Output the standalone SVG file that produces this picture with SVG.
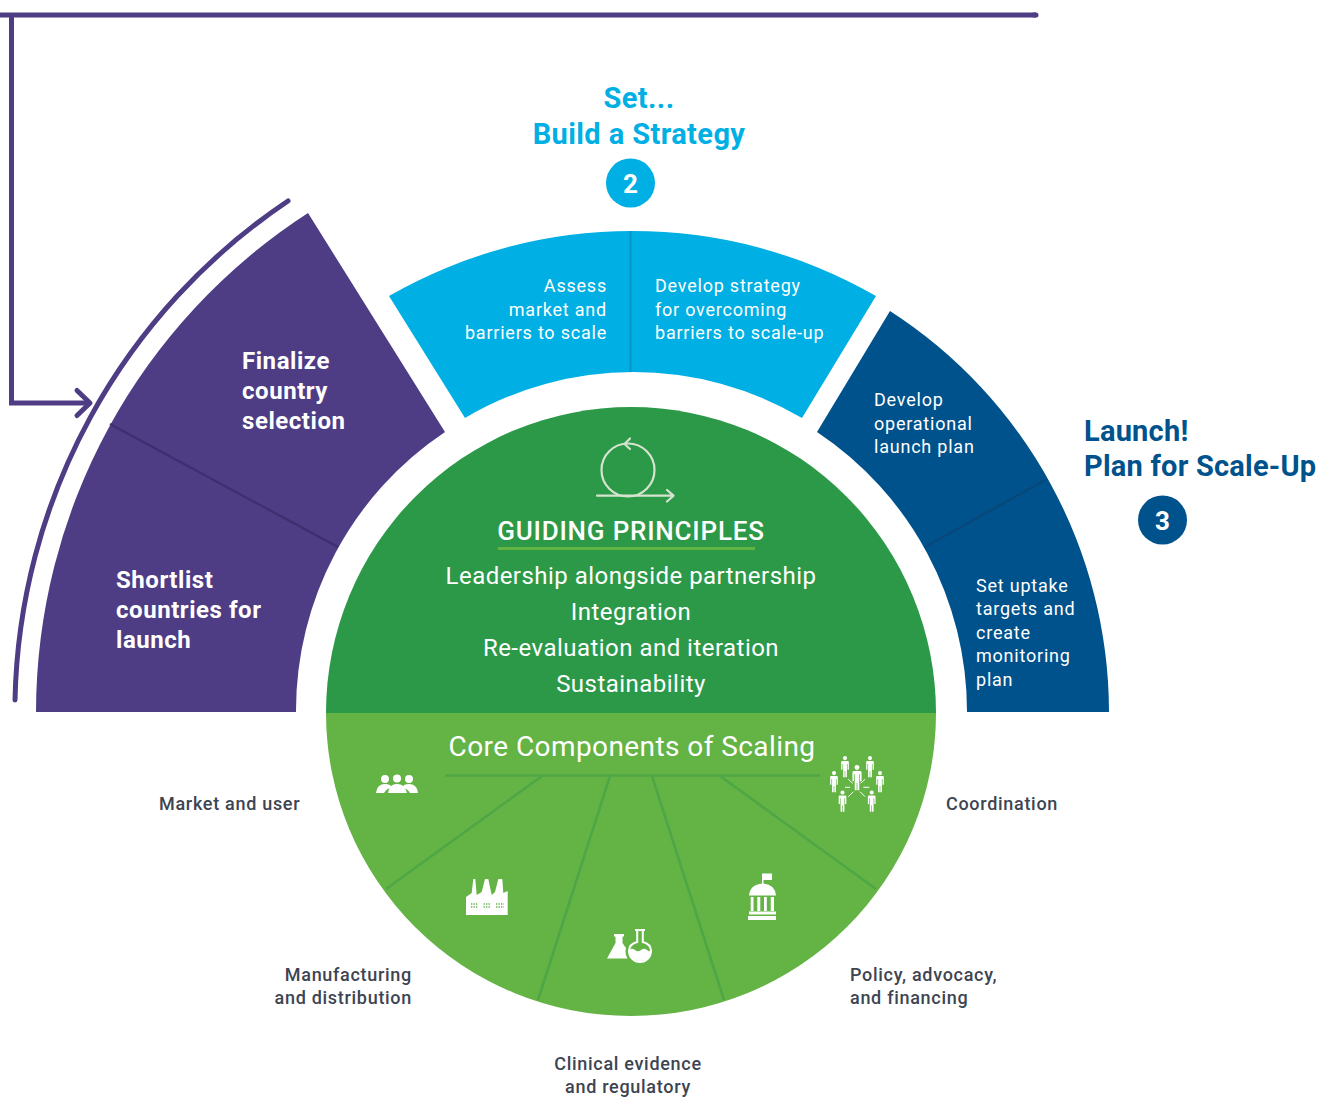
<svg xmlns="http://www.w3.org/2000/svg" width="1321" height="1097" viewBox="0 0 1321 1097">
<style>
text{font-family:Roboto,"Liberation Sans",sans-serif}
.w{fill:#fff;font-size:18px;letter-spacing:.78px}
.wb{fill:#fff;font-size:24px;font-weight:700;letter-spacing:.55px}
.g{fill:#fff;font-size:24px;letter-spacing:.47px;text-anchor:middle}
.k{fill:#3d4452;font-size:18px;font-weight:500;letter-spacing:.7px}
.t1{fill:#00afe3;font-size:29px;font-weight:700;letter-spacing:.4px;text-anchor:middle}
.t2{fill:#00528c;font-size:29px;font-weight:700;letter-spacing:.22px}
.n{fill:#fff;font-size:26px;font-weight:700;text-anchor:middle}
.e{text-anchor:end}.m{text-anchor:middle}
.dl{stroke:#4fa647;stroke-width:2.5;fill:none}
.ic{fill:#fff}
.ln{fill:none;stroke:#4e3d84;stroke-width:5}
.lp{fill:none;stroke:#d5e3cf;stroke-width:2.2;stroke-linecap:round;stroke-linejoin:round}
</style>
<defs>
<g id="person"><circle cx="0" cy="-17" r="3.200"/><path d="M-4.500-12.500H4.500Q6-12.500 6-10.500V1H4V-8H3V13H.5V3H-.5V13H-3V-8H-4V1H-6V-10.500Q-6-12.500-4.500-12.500Z"/></g>
</defs>
<g id="connectors">
<path class="ln" d="M1036 15H0"/>
<path class="ln" stroke-linecap="round" d="M1036 15H1034"/>
<path class="ln" d="M11.500 15V403H88"/>
<path class="ln" stroke-linecap="round" stroke-linejoin="round" d="M77 390.500L90 403L77 415.500"/>
<path class="ln" stroke-linecap="round" d="M288 201A616 616 0 0 0 15 700"/>
</g>
<g id="step1">
<path fill="#4e3d84" d="M36 712A595 595 0 0 1 308 213L445 432A335 335 0 0 0 296 712Z"/>
<path fill="none" stroke="#3c2e6f" stroke-width="2" d="M110 424L338 547"/>
<text class="wb" x="242" y="369">Finalize</text>
<text class="wb" x="242" y="399">country</text>
<text class="wb" x="242" y="429">selection</text>
<text class="wb" x="116" y="588">Shortlist</text>
<text class="wb" x="116" y="618">countries for</text>
<text class="wb" x="116" y="648">launch</text>
</g>
<g id="step2">
<path fill="#00afe3" d="M389 296A488 488 0 0 1 876 296L802 418A332 332 0 0 0 465 418Z"/>
<path fill="none" stroke="#0a93c6" stroke-width="2" d="M630.500 231V372"/>
<text class="w e" x="607" y="292">Assess</text>
<text class="w e" x="607" y="316">market and</text>
<text class="w e" x="607" y="339">barriers to scale</text>
<text class="w" x="655" y="292">Develop strategy</text>
<text class="w" x="655" y="316">for overcoming</text>
<text class="w" x="655" y="339">barriers to scale-up</text>
<text class="t1" x="639" y="108">Set...</text>
<text class="t1" x="639" y="144">Build a Strategy</text>
<circle cx="630.500" cy="183" r="24.500" fill="#00afe3"/>
<text class="n" x="630.500" y="193">2</text>
</g>
<g id="step3">
<path fill="#00528c" d="M890 311A478 478 0 0 1 1109 712H967A336 336 0 0 0 817 432Z"/>
<path fill="none" stroke="#0b4678" stroke-width="2" d="M1047 479L925 547"/>
<text class="w" x="874" y="406">Develop</text>
<text class="w" x="874" y="430">operational</text>
<text class="w" x="874" y="453">launch plan</text>
<text class="w" x="976" y="592">Set uptake</text>
<text class="w" x="976" y="615">targets and</text>
<text class="w" x="976" y="639">create</text>
<text class="w" x="976" y="662">monitoring</text>
<text class="w" x="976" y="686">plan</text>
<text class="t2" x="1084" y="441">Launch!</text>
<text class="t2" x="1084" y="476">Plan for Scale-Up</text>
<circle cx="1162.500" cy="520" r="24.500" fill="#00528c"/>
<text class="n" x="1162.500" y="530">3</text>
</g>
<g id="guiding-principles">
<path fill="#2c9948" d="M326 713A305 306 0 0 1 936 713Z"/>
<circle class="lp" cx="628" cy="470" r="26.500"/>
<path class="lp" d="M597 495.700H673M667 490L673.500 495.700L667 501.500M630 438.500L624.500 444L630 449"/>
<text class="g" x="631" y="540" style="font-size:26px;letter-spacing:.8px;font-weight:500">GUIDING PRINCIPLES</text>
<path fill="none" stroke="#63b345" stroke-width="3" d="M498 548.500H755"/>
<text class="g" x="631" y="584">Leadership alongside partnership</text>
<text class="g" x="631" y="620">Integration</text>
<text class="g" x="631" y="656">Re-evaluation and iteration</text>
<text class="g" x="631" y="692">Sustainability</text>
</g>
<g id="core-components">
<path fill="#63b345" d="M326 713H936A305 303 0 0 1 326 713Z"/>
<path class="dl" d="M445 775.500H820"/>
<path class="dl" d="M542 776L386 889M610 776L538 1000M652 776L724 1000M720 776L876 889"/>
<text class="g" x="632" y="756" style="font-size:28px;letter-spacing:.42px">Core Components of Scaling</text>
</g>
<g id="market-and-user">
<g class="ic"><circle cx="385" cy="779" r="4"/><circle cx="409" cy="779" r="4"/><path d="M376 793Q377 784 385 784Q390 784 392 787Q386 789 384 793ZM418 793Q417 784 409 784Q404 784 402 787Q408 789 410 793Z"/><circle cx="397" cy="778.500" r="4"/><path d="M388 793Q389 784 397 784Q405 784 407 793Z"/></g>
<text class="k" x="159" y="810">Market and user</text>
</g>
<g id="manufacturing">
<path class="ic" d="M466 915V897L471.700 893 473.300 879H475.300L476.700 895 481.700 892 485 879H488.300L491.700 895 495 892 498.300 879H502.300L503.300 893 507.700 891V915Z"/>
<path fill="none" stroke="#63b345" stroke-width="1.300" stroke-dasharray="1.300 1.200" d="M471 904H478.500M471 907H478.500M483.500 904H491M483.500 907H491M496 904H504M496 907H504"/>
<text class="k e" x="412" y="981">Manufacturing</text>
<text class="k e" x="412" y="1004">and distribution</text>
</g>
<g id="clinical-evidence">
<path class="ic" d="M614 934H624V936.500H622.500V943L633 958.500H607L615.500 943V936.500H614Z"/>
<path fill="#63b345" stroke="#63b345" stroke-width="5" d="M635 930H645V941Q652 944 652 951A12 12 0 0 1 628 951Q628 944 637 941V930Z"/>
<path fill="#63b345" stroke="#fff" stroke-width="2" d="M635 930H645M637.200 930V942Q629 944 629 951A11 11 0 0 0 651 951Q651 944 642.800 942V930"/>
<path class="ic" d="M629 950Q632 947.500 635 950T641 950T647 950T651 950A11 11 0 0 1 629 950Z"/>
<text class="k m" x="628" y="1070">Clinical evidence</text>
<text class="k m" x="628" y="1093">and regulatory</text>
</g>
<g id="policy">
<path class="ic" d="M762 883V873.500H772V880H763.500V883.500Q775 884.500 776 895.500H749Q750 884.500 762 883.500ZM750.700 897H753.500V911H750.700ZM757.300 897H760.300V911H757.300ZM764 897H766.800V911H764ZM770.700 897H774V911H770.700ZM749 911.500H776V914.500H749ZM748 916H776V920H748Z"/>
<text class="k" x="850" y="981">Policy, advocacy,</text>
<text class="k" x="850" y="1004">and financing</text>
</g>
<g id="coordination">
<g class="ic">
<use href="#person" transform="translate(845 769) scale(.64)"/>
<use href="#person" transform="translate(870 769) scale(.64)"/>
<use href="#person" transform="translate(834 784) scale(.64)"/>
<use href="#person" transform="translate(880 784) scale(.64)"/>
<use href="#person" transform="translate(857 780.400) scale(.76)"/>
<use href="#person" transform="translate(842.500 803.400) scale(.64)"/>
<use href="#person" transform="translate(871.700 803.400) scale(.64)"/>
</g>
<path fill="none" stroke="#fff" stroke-width="1" d="M848.300 779.300L852.700 783.300M865 779.300L860.700 783.300M845 787.300H850M863.300 787.300H869.300M848.300 796.700L853.300 791.700M865 796.700L860 791.700"/>
<text class="k" x="946" y="810">Coordination</text>
</g>
</svg>
